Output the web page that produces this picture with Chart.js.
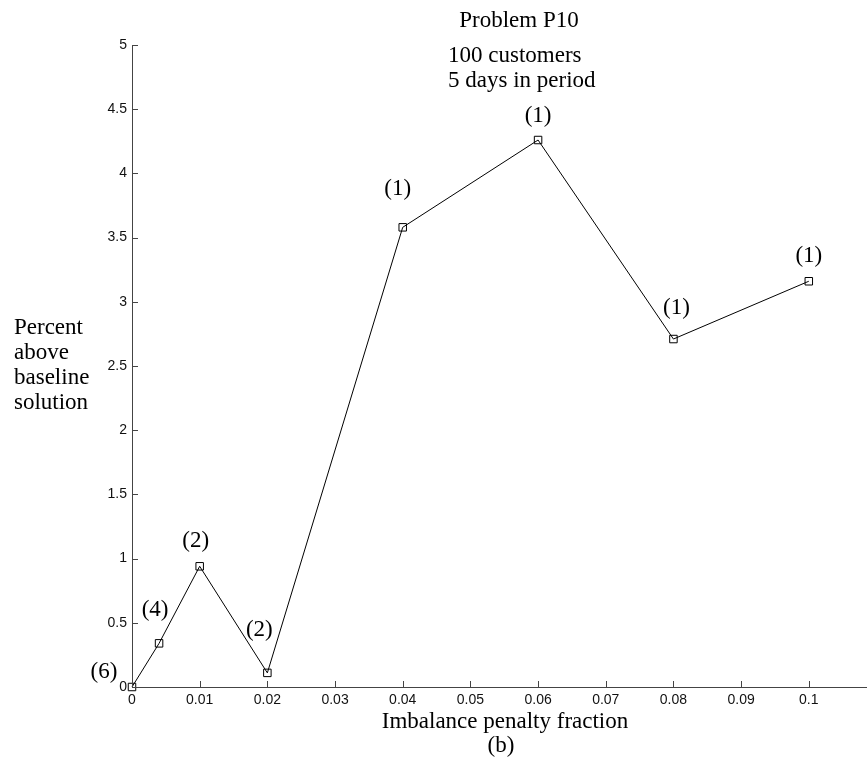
<!DOCTYPE html>
<html>
<head>
<meta charset="utf-8">
<script src="https://cdn.jsdelivr.net/npm/chart.js@4/dist/chart.umd.min.js"></script>
<style>
  html, body { margin: 0; padding: 0; background: #fff; }
  #wrap { width: 867px; height: 761px; }
</style>
</head>
<body>
<div id="wrap"><canvas id="chart" width="867" height="761"></canvas></div>
<script>
// Problem P10 results: cost above baseline vs imbalance penalty
const penaltyFractions = [0, 0.004, 0.01, 0.02, 0.04, 0.06, 0.08, 0.1];
const percentAbove = [0, 0.34, 0.94, 0.11, 3.58, 4.26, 2.71, 3.16];
const runCounts = [6, 4, 2, 2, 1, 1, 1, 1];

const xTicks = [0, 0.01, 0.02, 0.03, 0.04, 0.05, 0.06, 0.07, 0.08, 0.09, 0.1];
const yTicks = [0, 0.5, 1, 1.5, 2, 2.5, 3, 3.5, 4, 4.5, 5];

// where each "(n)" sits relative to its marker
const countOffsets = [[-28, -15], [-4, -33], [-4, -25], [-8, -43], [-5, -38], [0, -24], [3, -31], [0, -25]];

const serif = '"Liberation Serif", "Times New Roman", serif';
const sans = '"Liberation Sans", Arial, sans-serif';
const axisColor = '#444';

// inward tick marks on both axes
const innerTicks = {
    id: 'innerTicks',
    afterDraw(chart) {
        const ctx = chart.ctx;
        const x = chart.scales.x, y = chart.scales.y;
        const len = 6;
        ctx.save();
        ctx.strokeStyle = axisColor;
        ctx.lineWidth = 1;
        ctx.beginPath();
        xTicks.forEach(v => {
            const px = Math.round(x.getPixelForValue(v)) + 0.5;
            ctx.moveTo(px, y.bottom);
            ctx.lineTo(px, y.bottom - len);
        });
        yTicks.forEach(v => {
            const py = Math.round(y.getPixelForValue(v)) + 0.5;
            ctx.moveTo(x.left, py);
            ctx.lineTo(x.left + len, py);
        });
        ctx.stroke();
        ctx.restore();
    }
};

// run counts above markers, plus titles and axis captions
const annotations = {
    id: 'annotations',
    afterDatasetsDraw(chart) {
        const ctx = chart.ctx;
        const x = chart.scales.x, y = chart.scales.y;
        ctx.save();
        ctx.fillStyle = '#000';
        ctx.font = '23px ' + serif;
        ctx.textAlign = 'center';
        ctx.textBaseline = 'middle';
        runCounts.forEach((n, i) => {
            const px = x.getPixelForValue(penaltyFractions[i]) + countOffsets[i][0];
            const py = y.getPixelForValue(percentAbove[i]) + countOffsets[i][1];
            ctx.fillText('(' + n + ')', px, py);
        });

        ctx.fillText('Problem P10', 519, 21);
        ctx.textAlign = 'left';
        ctx.fillText('100 customers', 448, 56);
        ctx.fillText('5 days in period', 448, 81);

        ctx.fillText('Percent', 14, 328);
        ctx.fillText('above', 14, 353);
        ctx.fillText('baseline', 14, 378);
        ctx.fillText('solution', 14, 403);

        ctx.textAlign = 'center';
        ctx.fillText('Imbalance penalty fraction', 505, 722);
        ctx.fillText('(b)', 501, 746);
        ctx.restore();
    }
};

new Chart(document.getElementById('chart'), {
    type: 'line',
    data: {
        datasets: [{
            data: penaltyFractions.map((v, i) => ({ x: v, y: percentAbove[i] })),
            borderColor: '#000',
            borderWidth: 1,
            pointStyle: 'rect',
            pointRadius: 5.3,
            pointBorderWidth: 1,
            pointBorderColor: '#000',
            pointBackgroundColor: 'rgba(0,0,0,0)',
            tension: 0,
            fill: false,
            clip: false
        }]
    },
    options: {
        responsive: false,
        animation: false,
        devicePixelRatio: 1,
        layout: { autoPadding: false, padding: { top: 45, right: 0, bottom: 0, left: 0 } },
        plugins: { legend: { display: false }, tooltip: { enabled: false } },
        scales: {
            x: {
                type: 'linear',
                min: 0,
                max: 0.1086,
                afterBuildTicks: s => { s.ticks = xTicks.map(v => ({ value: v })); },
                afterFit: s => { s.height = 74; s.paddingLeft = 0; s.paddingRight = 0; },
                grid: { display: false, drawTicks: false, tickLength: 0 },
                border: { display: true, color: axisColor, width: 1 },
                ticks: {
                    color: '#111',
                    font: { family: sans, size: 14 },
                    padding: 5,
                    maxRotation: 0,
                    autoSkip: false,
                    callback: v => String(+v.toFixed(2))
                }
            },
            y: {
                type: 'linear',
                min: 0,
                max: 5,
                afterBuildTicks: s => { s.ticks = yTicks.map(v => ({ value: v })); },
                afterFit: s => { s.width = 132; s.paddingTop = 0; s.paddingBottom = 0; },
                grid: { display: false, drawTicks: false, tickLength: 0 },
                border: { display: true, color: axisColor, width: 1 },
                ticks: {
                    color: '#111',
                    font: { family: sans, size: 14 },
                    padding: 5,
                    autoSkip: false,
                    callback: v => String(+v.toFixed(1))
                }
            }
        }
    },
    plugins: [innerTicks, annotations]
});
</script>
</body>
</html>
